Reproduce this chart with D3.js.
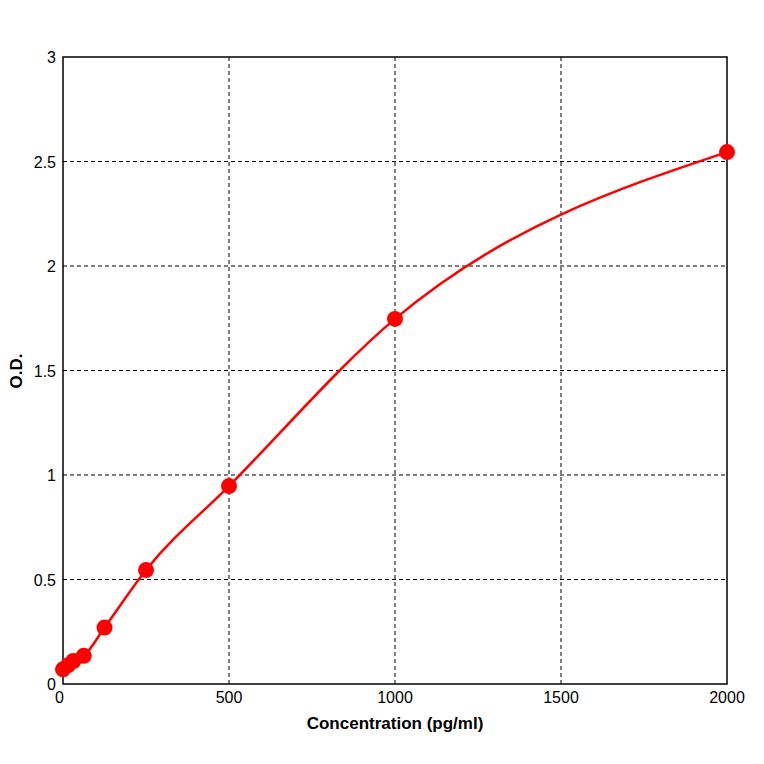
<!DOCTYPE html><html><head><meta charset="utf-8"><script src="https://cdn.jsdelivr.net/npm/d3@7"></script>
<style>body{margin:0;background:#fff}text{font-family:"Liberation Sans",Arial,sans-serif}</style></head><body>
<svg id="c" width="764" height="764"></svg>
<script>
const conc=[0,15.6,31.25,62.5,125,250,500,1000,2000];
const od=[0.07,0.09,0.11,0.135,0.27,0.545,0.947,1.747,2.545];
const xTicks=[0,500,1000,1500,2000];
const yTicks=[0,0.5,1,1.5,2,2.5,3];
const svg=d3.select("#c");
const L=63,R=727,T=57,B=684;
const x=d3.scaleLinear().domain([0,2000]).range([L,R]);
const y=d3.scaleLinear().domain([0,3]).range([B,T]);
const g=svg.append("g");
xTicks.slice(1,-1).forEach(t=>g.append("line").attr("x1",x(t)).attr("x2",x(t)).attr("y1",T).attr("y2",B).attr("stroke","#000").attr("stroke-dasharray","4,3"));
yTicks.slice(1,-1).forEach(t=>g.append("line").attr("x1",L).attr("x2",R).attr("y1",y(t)).attr("y2",y(t)).attr("stroke","#000").attr("stroke-dasharray","4,3"));
g.append("rect").attr("x",L).attr("y",T).attr("width",R-L).attr("height",B-T).attr("fill","none").attr("stroke","#000").attr("stroke-width",1.5);
xTicks.forEach(t=>svg.append("text").attr("x",x(t)).attr("y",B+19).attr("text-anchor",t==0?"start":"middle").attr("dx",t==0?-8:0).attr("font-size",16).text(t));
yTicks.forEach(t=>svg.append("text").attr("x",L-7).attr("y",y(t)+6).attr("text-anchor","end").attr("font-size",16).text(t));
svg.append("text").attr("x",(L+R)/2).attr("y",729).attr("text-anchor","middle").attr("font-size",17).attr("font-weight","bold").text("Concentration (pg/ml)");
svg.append("text").attr("transform","translate(22,371) rotate(-90)").attr("text-anchor","middle").attr("font-size",17).attr("font-weight","bold").text("O.D.");
const pts=conc.map((c,i)=>[x(c),y(od[i])]);
svg.append("path").attr("d",d3.line().curve(d3.curveMonotoneX)(pts)).attr("fill","none").attr("stroke","#f00").attr("stroke-width",2.5);
svg.selectAll("circle.p").data(pts).join("circle").attr("cx",d=>d[0]).attr("cy",d=>d[1]).attr("r",8).attr("fill","#f00");
</script></body></html>
